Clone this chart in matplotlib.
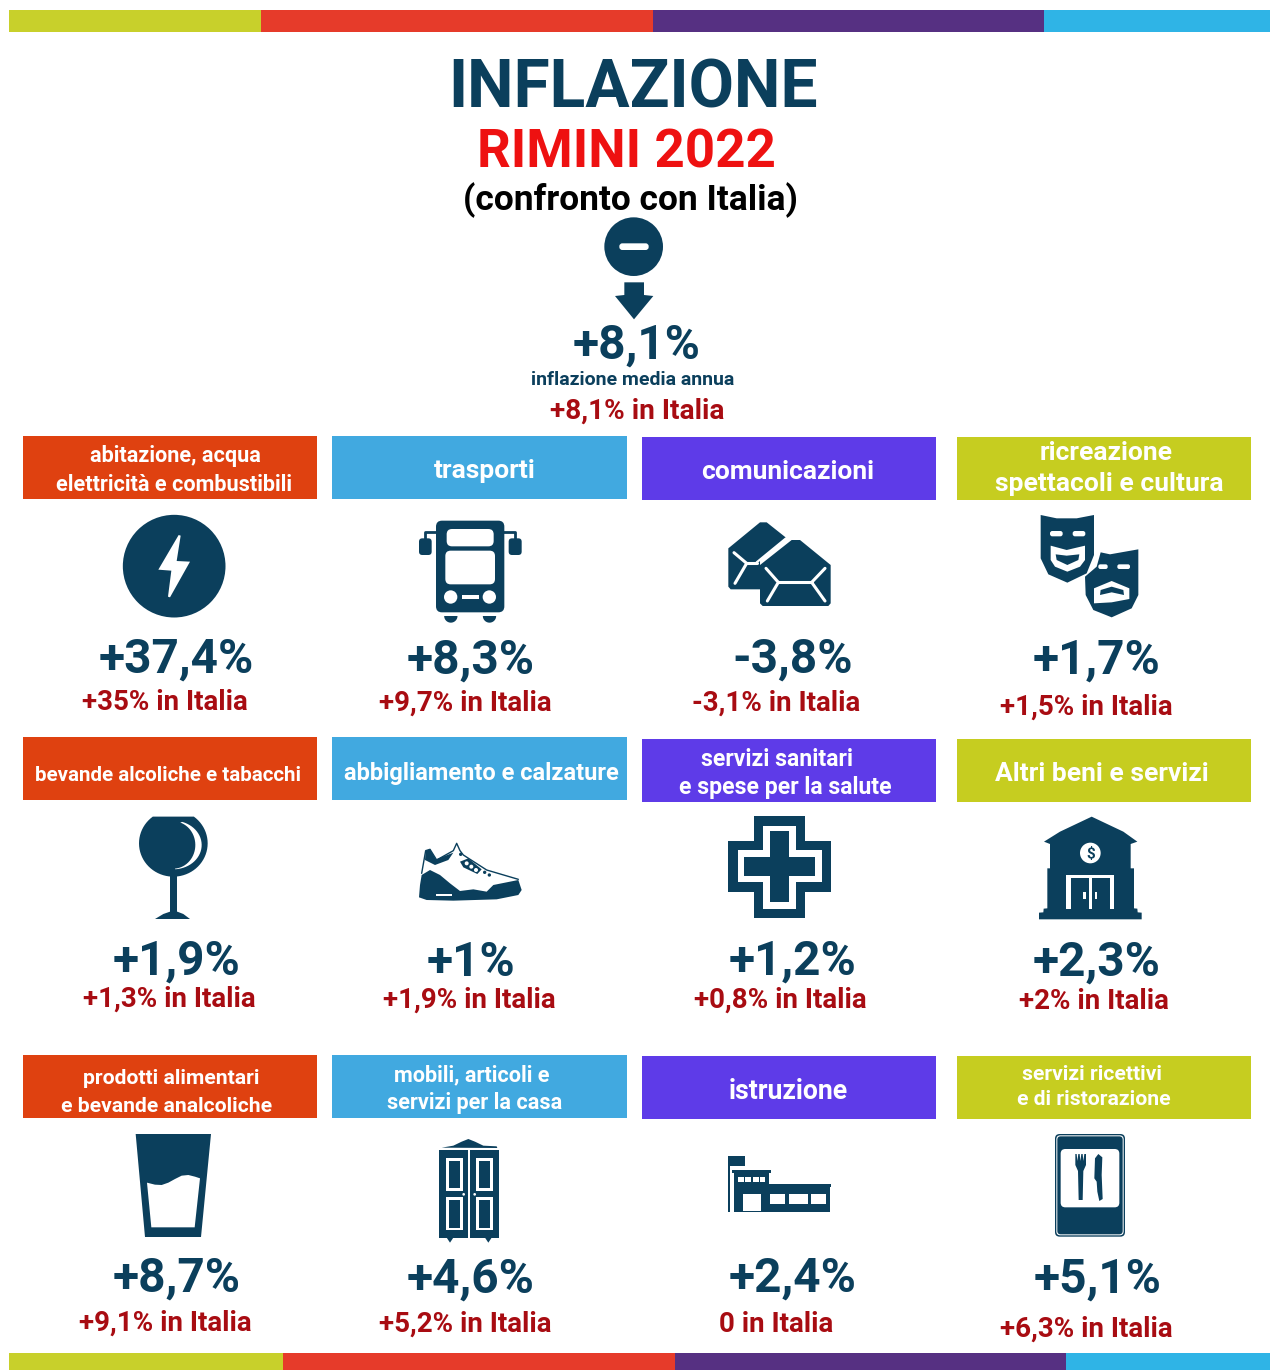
#!/usr/bin/env python
'''
inflazione Rimini 2022, infographic drawn in pixel coordinates
'''
import matplotlib
matplotlib.use('Agg')
from matplotlib import pyplot as plt
from matplotlib.patches import Polygon, Circle, Rectangle, FancyBboxPatch
import numpy as np

plt.rcParams['font.family'] = ['Roboto', 'DejaVu Sans']

dark = '#0B3F5C'
italy_red = '#A80C12'
title_red = '#EE1111'

# data
total_rimini = '+8,1%'
total_italy = '+8,1% in Italia'
rimini = ['+37,4%', '+8,3%', '-3,8%', '+1,7%',
          '+1,9%', '+1%', '+1,2%', '+2,3%',
          '+8,7%', '+4,6%', '+2,4%', '+5,1%']
italy = ['+35% in Italia', '+9,7% in Italia', '-3,1% in Italia', '+1,5% in Italia',
         '+1,3% in Italia', '+1,9% in Italia', '+0,8% in Italia', '+2% in Italia',
         '+9,1% in Italia', '+5,2% in Italia', '0 in Italia', '+6,3% in Italia']
categories = [['abitazione, acqua', 'elettricità e combustibili'], ['trasporti'],
              ['comunicazioni'], ['ricreazione', 'spettacoli e cultura'],
              ['bevande alcoliche e tabacchi'], ['abbigliamento e calzature'],
              ['servizi sanitari', 'e spese per la salute'], ['Altri beni e servizi'],
              ['prodotti alimentari', 'e bevande analcoliche'], ['mobili, articoli e', 'servizi per la casa'],
              ['istruzione'], ['servizi ricettivi', 'e di ristorazione']]

# layout, one entry per cell
col_x = [(23, 317), (332, 627), (642, 936), (957, 1251)]
col_color = ['#DF4110', '#41A9E0', '#5E3BE8', '#C6CD20']
head_top = [436, 436, 437, 437, 737, 737, 739, 739, 1055, 1055, 1056, 1056]
head_size = [15.6, 19, 19, 19, 14.8, 17, 16.6, 19, 15.2, 15.6, 19.2, 15.2]
head_cx = [[175, 174], [485], [788], [1106, 1109], [168], [481], [777, 785], [1102],
           [171, 167], [472, 475], [788], [1092, 1094]]
head_base = [[462, 491], [478], [479], [460, 491], [781], [780], [766, 794], [781],
             [1084, 1112], [1081, 1109], [1099], [1080, 1105]]
val_x = [176, 471, 793, 1097, 177, 471, 793, 1097, 177, 471, 793, 1098]
val_y = [673, 674, 673, 674, 975, 976, 975, 976, 1292, 1293, 1292, 1293]
ita_x = [165, 465, 776, 1086, 169, 469, 780, 1094, 165, 465, 776, 1086]
ita_y = [710, 711, 711, 715, 1007, 1008, 1008, 1009, 1331, 1332, 1332, 1337]

fig = plt.figure(figsize=(12.7, 13.7), dpi=100)
ax = fig.add_axes([0, 0, 1, 1])
ax.set_xlim(0, 1270)
ax.set_ylim(1370, 0)
ax.axis('off')


def label(x, y, s, size, color=dark, weight='bold'):
    ax.text(x, y, s, fontsize=size, color=color, weight=weight, ha='center', va='baseline')


def to_px(pts, org):
    return [(org[0] + p[0] / 3., org[1] + p[1] / 3.) for p in pts]


def poly(pts, org, color=dark, **kw):
    ax.add_patch(Polygon(to_px(pts, org), closed=True, facecolor=color, edgecolor='none', **kw))


def box(x0, y0, x1, y1, org, color=dark, r=0):
    (a, b), (c, d) = to_px([(x0, y0), (x1, y1)], org)
    if r:
        ax.add_patch(FancyBboxPatch((a, b), c - a, d - b, boxstyle='round,pad=0,rounding_size=%f' % (r / 3.),
                                    facecolor=color, edgecolor='none'))
    else:
        ax.add_patch(Rectangle((a, b), c - a, d - b, facecolor=color, edgecolor='none'))


def circ(x, y, r, org, color=dark):
    ax.add_patch(Circle(to_px([(x, y)], org)[0], r / 3., facecolor=color, edgecolor='none'))


def line(pts, org, color='white', lw=2.2):
    p = np.array(to_px(pts, org))
    ax.plot(p[:, 0], p[:, 1], color=color, lw=lw, solid_capstyle='round', solid_joinstyle='round')


def icon_bolt():
    o = (100, 505)
    circ(222.5, 183.5, 154, o)
    poly([(236, 90), (242, 92), (230, 168), (270, 170), (210, 277), (204, 275), (214, 197), (175, 194)], o, 'white')


def icon_bus():
    o = (100, 505)
    line([(975, 110), (975, 80), (1010, 80)], o, dark, 2)
    line([(1245, 110), (1245, 80), (1210, 80)], o, dark, 2)
    box(957, 100, 995, 150, o, r=10)
    box(1226, 100, 1265, 150, o, r=10)
    box(1008, 47, 1213, 322, o, r=18)
    box(1040, 72, 1181, 124, o, 'white', r=16)
    box(1036, 137, 1185, 238, o, 'white', r=16)
    circ(1052, 276, 20, o, 'white')
    circ(1168, 276, 20, o, 'white')
    box(1085, 269, 1137, 283, o, 'white')
    for x in (1052.5, 1168.5):
        t = np.linspace(0, np.pi, 20)
        poly(list(zip(x + 20 * np.cos(t), 333 + 20 * np.sin(t))), o)


def icon_mail():
    o = (710, 505)
    poly([(55, 130), (150, 52), (170, 52), (228, 98), (150, 165), (150, 253), (62, 253), (55, 245)], o)
    line([(72, 143), (110, 175), (75, 235)], o)
    line([(110, 175), (140, 175)], o)
    poly([(150, 180), (245, 105), (270, 105), (362, 180), (362, 295), (355, 303), (158, 303), (150, 295)], o)
    line([(228, 100), (140, 172)], o, 'white', 1.6)
    line([(168, 190), (205, 232), (172, 288)], o)
    line([(205, 232), (305, 232)], o)
    line([(345, 190), (305, 232), (345, 288)], o)


def icon_masks():
    o = (710, 505)
    poly([(992, 30), (1040, 40), (1100, 40), (1152, 30), (1152, 150), (1130, 205), (1072, 233), (1015, 208), (992, 160)], o)
    box(1020, 78, 1058, 94, o, 'white', r=7)
    box(1088, 78, 1126, 94, o, 'white', r=7)
    poly([(1022, 122), (1070, 135), (1125, 122), (1125, 165), (1110, 185), (1072, 200), (1035, 185), (1022, 165)], o, 'white')
    poly([(1037, 148), (1070, 152), (1108, 148), (1105, 165), (1072, 180), (1040, 165)], o)
    poly([(1125, 215), (1160, 185), (1172, 142), (1200, 148), (1285, 133), (1285, 270), (1265, 310), (1205, 337), (1150, 315), (1127, 270)], o)
    box(1165, 178, 1193, 192, o, 'white', r=6)
    box(1222, 178, 1260, 192, o, 'white', r=6)
    poly([(1152, 295), (1152, 250), (1205, 228), (1258, 250), (1258, 282), (1205, 292)], o, 'white')
    poly([(1170, 270), (1172, 255), (1205, 245), (1240, 255), (1242, 270), (1205, 262)], o)


def icon_glass():
    o = (120, 810)
    t = np.linspace(-0.93, np.pi + 0.93, 60)
    poly(list(zip(160 + 103 * np.cos(t), 100 - 100 * np.sin(-t))), o)
    a = np.linspace(-1.25, 1.5, 30)
    outer = list(zip(160 + 85 * np.cos(a), 105 + 73 * np.sin(a)))
    inner = list(zip(160 + 66 * np.cos(a[::-1]), 105 + 71 * np.sin(a[::-1])))
    poly(outer + inner, o, 'white')
    box(150, 195, 172, 310, o)
    poly([(105, 327), (130, 312), (150, 305), (172, 305), (190, 312), (210, 327)], o)


def icon_shoe():
    o = (120, 810)
    line([(905, 190), (917, 122), (930, 118), (950, 150), (1000, 122), (1010, 100), (1020, 122), (1030, 135), (1100, 180), (1195, 208)], o, dark, 1)
    poly([(917, 122), (930, 118), (948, 148), (1000, 128), (985, 150), (945, 165), (915, 150)], o)
    poly([(897, 262), (900, 225), (905, 195), (930, 180), (960, 195), (990, 220), (1020, 243), (1060, 238), (1100, 245), (1120, 225),
          (1170, 215), (1195, 210), (1205, 240), (1195, 255), (1130, 268), (1000, 272), (920, 270)], o)
    box(948, 251, 995, 257, o, 'white')
    poly([(1020, 155), (1045, 145), (1085, 178), (1072, 192), (1030, 172)], o)
    for x, y in ((1040, 160), (1054, 170), (1068, 180)):
        circ(x, y, 6, o, 'white')
    for x, y in ((1022, 133), (1094, 187), (1108, 195)):
        circ(x, y, 5, o)


def icon_cross():
    o = (710, 810)
    box(132, 17, 285, 325, o)
    box(55, 92, 362, 247, o)
    box(160, 47, 258, 297, o, 'white')
    box(83, 120, 335, 217, o, 'white')
    box(180, 63, 238, 277, o)
    box(103, 140, 315, 198, o)


def icon_bank():
    o = (710, 810)
    poly([(1002, 95), (1050, 65), (1145, 20), (1240, 65), (1282, 95), (1262, 102), (1262, 175), (1272, 175), (1272, 295), (1282, 296),
          (1283, 307), (1295, 308), (1295, 328), (987, 328), (987, 308), (1000, 307), (1001, 296), (1012, 295), (1012, 175), (1020, 175), (1020, 102)], o)
    circ(1141, 129, 31, o, 'white')
    px, py = to_px([(1141, 143)], o)[0]
    label(px, py, '$', 11)
    box(1068, 195, 1213, 298, o, 'white')
    box(1082, 205, 1199, 298, o)
    box(1137, 205, 1145, 298, o, 'white')
    box(1120, 245, 1128, 267, o, 'white')
    box(1154, 245, 1162, 267, o, 'white')


def icon_cup():
    o = (120, 1125)
    poly([(47, 27), (273, 27), (243, 336), (75, 336)], o)
    poly([(81, 173), (105, 179), (125, 180), (145, 173), (165, 162), (185, 152), (205, 150), (225, 155), (240, 160), (224, 307), (94, 307)], o, 'white')


def icon_wardrobe():
    o = (120, 1125)
    poly([(965, 68), (1000, 62), (1025, 50), (1045, 42), (1065, 50), (1090, 62), (1130, 64), (1132, 69)], o)
    box(958, 75, 1137, 338, o)
    box(1045, 75, 1051, 338, o, 'white')
    poly([(980, 338), (1000, 338), (990, 353)], o)
    poly([(1095, 338), (1115, 338), (1105, 353)], o)
    for x0 in (978, 1068):
        for y0, y1 in ((100, 197), (216, 316)):
            box(x0, y0, x0 + 50, y1, o, 'white')
            box(x0 + 9, y0 + 8, x0 + 41, y1 - 8, o)
    circ(1031, 208, 4, o, 'white')
    circ(1064, 208, 4, o, 'white')


def icon_school():
    o = (710, 1125)
    box(54, 92, 60, 260, o)
    box(54, 92, 104, 124, o)
    box(66, 134, 182, 144, o)
    box(73, 144, 177, 180, o)
    box(73, 180, 360, 260, o)
    box(177, 178, 363, 186, o)
    for w in ((83, 155, 101, 171), (105, 155, 123, 171), (128, 155, 146, 171), (150, 155, 166, 171), (100, 207, 152, 257),
              (181, 207, 226, 236), (237, 207, 293, 236), (304, 207, 348, 236)):
        box(w[0], w[1], w[2], w[3], o, 'white')


def icon_sign():
    o = (710, 1125)
    box(1035, 27, 1245, 335, o, r=14)
    box(1039, 31, 1241, 331, o, 'white', r=12)
    box(1042, 34, 1238, 328, o, r=10)
    box(1052, 72, 1228, 247, o, 'white', r=14)
    poly([(1096, 87), (1100, 87), (1102, 108), (1105, 87), (1109, 87), (1111, 108), (1114, 87), (1118, 87), (1120, 108), (1123, 87), (1128, 87),
          (1128, 120), (1120, 138), (1118, 225), (1106, 225), (1104, 138), (1096, 120)], o)
    poly([(1155, 100), (1165, 87), (1177, 97), (1175, 150), (1178, 222), (1168, 228), (1162, 200), (1160, 170), (1153, 160)], o)


# coloured strips top and bottom
strip_col = ['#C8D02B', '#E63B2A', '#563082', '#2FB4E6']
for edges, y0, y1 in (([9, 261, 653, 1044, 1270], 10, 32), ([9, 283, 675, 1066, 1270], 1353, 1370)):
    for i in range(4):
        ax.add_patch(Rectangle((edges[i], y0), edges[i + 1] - edges[i], y1 - y0, facecolor=strip_col[i], edgecolor='none'))

label(633, 107, 'INFLAZIONE', 47.4)
label(626, 167, 'RIMINI 2022', 38.2, title_red)
label(630, 210, '(confronto con Italia)', 25.5, 'black')
o = (400, 0)
circ(701, 740, 88, o)
box(658, 730, 746, 750, o, 'white', r=9)
poly([(673, 847), (732, 847), (732, 885), (760, 888), (702, 958), (645, 888), (673, 885)], o)
label(637, 359, total_rimini, 34.4)
label(633, 385, 'inflazione media annua', 14)
label(637, 419, total_italy, 20.2, italy_red)

icons = [icon_bolt, icon_bus, icon_mail, icon_masks, icon_glass, icon_shoe, icon_cross, icon_bank,
         icon_cup, icon_wardrobe, icon_school, icon_sign]

for i in range(12):
    c = i % 4
    ax.add_patch(Rectangle((col_x[c][0], head_top[i]), col_x[c][1] - col_x[c][0], 63, facecolor=col_color[c], edgecolor='none'))
    for txt, xc, yb in zip(categories[i], head_cx[i], head_base[i]):
        label(xc, yb, txt, head_size[i], 'white')
    icons[i]()
    label(val_x[i], val_y[i], rimini[i], 34.4)
    label(ita_x[i], ita_y[i], italy[i], 20, italy_red)

fig.savefig('out.png', dpi=100)
